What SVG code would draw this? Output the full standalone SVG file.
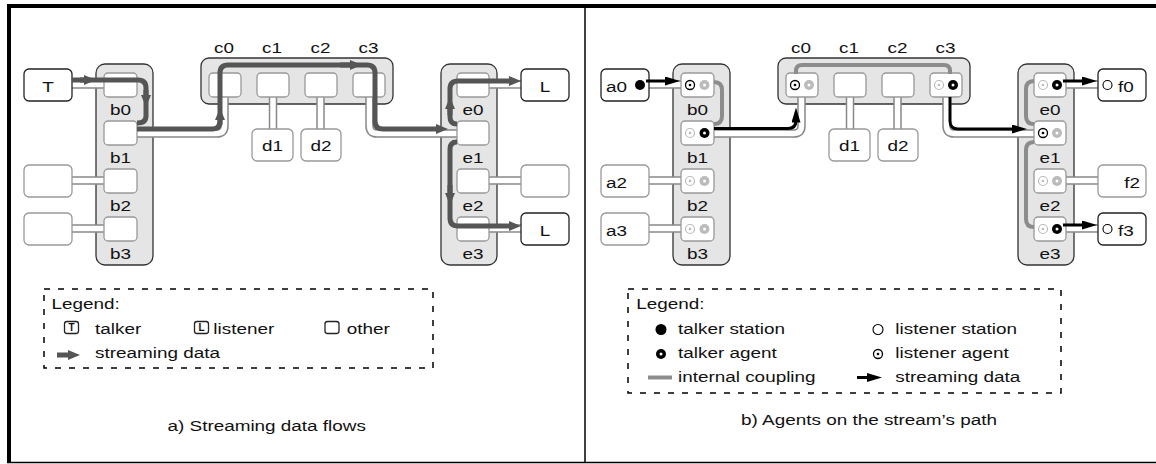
<svg xmlns="http://www.w3.org/2000/svg" width="1156" height="464" viewBox="0 0 1156 464">
<style>
.col{fill:#e5e5e5;stroke:#333;stroke-width:1.3}
.box{fill:#fff;stroke:#999;stroke-width:1.3}
.ext{fill:#fff;stroke:#222;stroke-width:1.3}
.ext2{fill:#fff;stroke:#999;stroke-width:1.3}
.lk{fill:none;stroke:#888;stroke-width:8.5}
.lkw{fill:none;stroke:#fff;stroke-width:5.5}
.flow{fill:none;stroke:#555;stroke-width:5}
.flowb{fill:none;stroke:#000;stroke-width:3}
.cpl{fill:none;stroke:#8c8c8c;stroke-width:4}
.leg{fill:none;stroke:#000;stroke-width:1.5;stroke-dasharray:6,8}
.t{font-family:"Liberation Sans",Arial,sans-serif;font-size:15.5px;fill:#111}
.s{font-family:"Liberation Sans",Arial,sans-serif;font-size:10px;font-weight:bold;fill:#111}
</style>
<defs>
<marker id="ag" viewBox="0 0 12 10" refX="2" refY="5" markerWidth="12" markerHeight="10" orient="auto" markerUnits="userSpaceOnUse"><path d="M0,0 L12,5 L0,10 z" fill="#555"/></marker>
<marker id="ab" viewBox="0 0 15 9" refX="2" refY="4.5" markerWidth="15" markerHeight="9" orient="auto" markerUnits="userSpaceOnUse"><path d="M0,0 L15,4.5 L0,9 z" fill="#000"/></marker>
<g id="la"><circle r="4.5" fill="#fff" stroke="#000" stroke-width="1.3"/><circle r="1.3" fill="#000"/></g>
<g id="ta"><circle r="5" fill="#000"/><circle r="1.5" fill="#fff"/></g>
<g id="li"><circle r="4.5" fill="#fff" stroke="#bbb" stroke-width="1.2"/><circle r="1.3" fill="#bbb"/></g>
<g id="ti"><circle r="5" fill="#bbb"/><circle r="1.5" fill="#fff"/></g>
</defs>

<!-- frame -->
<g id="frame">
<rect x="7" y="4" width="1149" height="4" fill="#000"/>
<rect x="7" y="4" width="4" height="459" fill="#000"/>
<line x1="7" y1="462.5" x2="1156" y2="462.5" stroke="#000" stroke-width="1.5"/>
<line x1="585" y1="8" x2="585" y2="462" stroke="#000" stroke-width="1.5"/>
</g>

<!-- ============ LEFT PANEL ============ -->
<g id="panelA">
<g id="A-bcol"><rect class="col" x="96" y="64" width="57" height="201" rx="9"/></g>
<g id="A-ccol"><rect class="col" x="201" y="58" width="192" height="46" rx="8"/></g>
<g id="A-ecol"><rect class="col" x="441" y="64" width="56" height="201" rx="9"/></g>

<g id="A-links">
<g><path class="lk" d="M72,84.5 H104"/><path class="lkw" d="M72,84.5 H104"/></g>
<g><path class="lk" d="M72,180.5 H104"/><path class="lkw" d="M72,180.5 H104"/></g>
<g><path class="lk" d="M72,228.5 H104"/><path class="lkw" d="M72,228.5 H104"/></g>
<g><path class="lk" d="M137,133.5 H217 Q224.5,133.5 224.5,126 V97"/><path class="lkw" d="M137,133.5 H217 Q224.5,133.5 224.5,126 V97"/></g>
<g><path class="lk" d="M273,97 V129"/><path class="lkw" d="M273,97 V129"/></g>
<g><path class="lk" d="M320.5,97 V129"/><path class="lkw" d="M320.5,97 V129"/></g>
<g><path class="lk" d="M369.5,97 V126 Q369.5,133.5 377,133.5 H457"/><path class="lkw" d="M369.5,97 V126 Q369.5,133.5 377,133.5 H457"/></g>
<g><path class="lk" d="M489,84.5 H521"/><path class="lkw" d="M489,84.5 H521"/></g>
<g><path class="lk" d="M489,180.5 H521"/><path class="lkw" d="M489,180.5 H521"/></g>
<g><path class="lk" d="M489,228.5 H521"/><path class="lkw" d="M489,228.5 H521"/></g>
</g>

<g id="A-T"><rect class="ext" x="24" y="69" width="48" height="32" rx="5"/><text class="t" text-anchor="middle" transform="translate(48,91.5) scale(1.22,1)">T</text></g>
<g id="A-x2"><rect class="ext2" x="24" y="165" width="48" height="32" rx="5"/></g>
<g id="A-x3"><rect class="ext2" x="24" y="213" width="48" height="32" rx="5"/></g>

<g id="A-b0"><rect class="box" x="104" y="73" width="33" height="24" rx="4"/><text class="t" text-anchor="middle" transform="translate(120.5,115) scale(1.22,1)">b0</text></g>
<g id="A-b1"><rect class="box" x="104" y="121" width="33" height="24" rx="4"/><text class="t" text-anchor="middle" transform="translate(120.5,163) scale(1.22,1)">b1</text></g>
<g id="A-b2"><rect class="box" x="104" y="169" width="33" height="24" rx="4"/><text class="t" text-anchor="middle" transform="translate(120.5,211) scale(1.22,1)">b2</text></g>
<g id="A-b3"><rect class="box" x="104" y="217" width="33" height="24" rx="4"/><text class="t" text-anchor="middle" transform="translate(120.5,259) scale(1.22,1)">b3</text></g>

<g id="A-c0"><rect class="box" x="209" y="73" width="32" height="24" rx="4"/><text class="t" text-anchor="middle" transform="translate(224,53) scale(1.22,1)">c0</text></g>
<g id="A-c1"><rect class="box" x="257" y="73" width="32" height="24" rx="4"/><text class="t" text-anchor="middle" transform="translate(272,53) scale(1.22,1)">c1</text></g>
<g id="A-c2"><rect class="box" x="305" y="73" width="32" height="24" rx="4"/><text class="t" text-anchor="middle" transform="translate(320.5,53) scale(1.22,1)">c2</text></g>
<g id="A-c3"><rect class="box" x="353" y="73" width="32" height="24" rx="4"/><text class="t" text-anchor="middle" transform="translate(368.5,53) scale(1.22,1)">c3</text></g>

<g id="A-d1"><rect class="ext2" x="252" y="129" width="41" height="32" rx="5"/><text class="t" text-anchor="middle" transform="translate(272.5,151) scale(1.22,1)">d1</text></g>
<g id="A-d2"><rect class="ext2" x="301" y="129" width="40" height="32" rx="5"/><text class="t" text-anchor="middle" transform="translate(321,151) scale(1.22,1)">d2</text></g>

<g id="A-e0"><rect class="box" x="457" y="73" width="32" height="24" rx="4"/><text class="t" text-anchor="middle" transform="translate(473,115) scale(1.22,1)">e0</text></g>
<g id="A-e1"><rect class="box" x="457" y="121" width="32" height="24" rx="4"/><text class="t" text-anchor="middle" transform="translate(473,163) scale(1.22,1)">e1</text></g>
<g id="A-e2"><rect class="box" x="457" y="169" width="32" height="24" rx="4"/><text class="t" text-anchor="middle" transform="translate(473,211) scale(1.22,1)">e2</text></g>
<g id="A-e3"><rect class="box" x="457" y="217" width="32" height="24" rx="4"/><text class="t" text-anchor="middle" transform="translate(473,259) scale(1.22,1)">e3</text></g>

<g id="A-L0"><rect class="ext" x="521" y="69" width="48" height="32" rx="5"/><text class="t" text-anchor="middle" transform="translate(545,91.5) scale(1.22,1)">L</text></g>
<g id="A-x6"><rect class="ext2" x="521" y="165" width="48" height="32" rx="5"/></g>
<g id="A-L3"><rect class="ext" x="521" y="213" width="48" height="32" rx="5"/><text class="t" text-anchor="middle" transform="translate(545,235.5) scale(1.22,1)">L</text></g>

<g id="A-flows">
<path class="flow" d="M72,80 H138 Q146,80 146,88 V116 Q146,123 137,123"/>
<path class="flow" d="M80,80 H86" marker-end="url(#ag)"/>
<path class="flow" d="M146,90 V97" marker-end="url(#ag)"/>
<path class="flow" d="M137,129 H212 Q220,129 220,121 V73 Q220,65 228,65 H367 Q375,65 375,73 V121 Q375,129 383,129 H438" marker-end="url(#ag)"/>
<path class="flow" d="M220,125 V118" marker-end="url(#ag)"/>
<path class="flow" d="M340,65 H352" marker-end="url(#ag)"/>
<path class="flow" d="M457,124 Q450,124 450,117 V89 Q450,81 458,81 H511" marker-end="url(#ag)"/>
<path class="flow" d="M450,115 V107" marker-end="url(#ag)"/>
<path class="flow" d="M457,142 Q450,142 450,149 V218 Q450,226 458,226 H511" marker-end="url(#ag)"/>
<path class="flow" d="M450,185 V195" marker-end="url(#ag)"/>
</g>

<g id="A-legend">
<rect class="leg" x="44" y="289" width="389" height="79"/>
<text class="t" transform="translate(51.5,309.3) scale(1.22,1)">Legend:</text>
<rect class="ext" x="64.5" y="321.5" width="14" height="12" rx="2.5"/>
<text class="s" text-anchor="middle" x="71.5" y="331">T</text>
<text class="t" transform="translate(95,334) scale(1.22,1)">talker</text>
<rect class="ext" x="194.5" y="321.5" width="14" height="12" rx="2.5"/>
<text class="s" text-anchor="middle" x="201.5" y="331">L</text>
<text class="t" transform="translate(213.3,334) scale(1.22,1)">listener</text>
<rect class="ext" x="325" y="321.5" width="14" height="12" rx="2.5"/>
<text class="t" transform="translate(346.7,334) scale(1.22,1)">other</text>
<path class="flow" d="M57,355 H70" marker-end="url(#ag)"/>
<text class="t" transform="translate(95,358.3) scale(1.22,1)">streaming data</text>
</g>
<text class="t" text-anchor="middle" transform="translate(266.7,431) scale(1.22,1)">a) Streaming data flows</text>
</g>

<!-- ============ RIGHT PANEL ============ -->
<g id="panelB">
<g transform="translate(577,0)">
<g id="B-bcol"><rect class="col" x="96" y="64" width="57" height="201" rx="9"/></g>
<g id="B-ccol"><rect class="col" x="201" y="58" width="192" height="46" rx="8"/></g>
<g id="B-ecol"><rect class="col" x="441" y="64" width="56" height="201" rx="9"/></g>

<g id="B-links">
<g><path class="lk" d="M72,84.5 H104"/><path class="lkw" d="M72,84.5 H104"/></g>
<g><path class="lk" d="M72,180.5 H104"/><path class="lkw" d="M72,180.5 H104"/></g>
<g><path class="lk" d="M72,228.5 H104"/><path class="lkw" d="M72,228.5 H104"/></g>
<g><path class="lk" d="M137,133.5 H217 Q224.5,133.5 224.5,126 V97"/><path class="lkw" d="M137,133.5 H217 Q224.5,133.5 224.5,126 V97"/></g>
<g><path class="lk" d="M273,97 V129"/><path class="lkw" d="M273,97 V129"/></g>
<g><path class="lk" d="M320.5,97 V129"/><path class="lkw" d="M320.5,97 V129"/></g>
<g><path class="lk" d="M369.5,97 V126 Q369.5,133.5 377,133.5 H457"/><path class="lkw" d="M369.5,97 V126 Q369.5,133.5 377,133.5 H457"/></g>
<g><path class="lk" d="M489,84.5 H521"/><path class="lkw" d="M489,84.5 H521"/></g>
<g><path class="lk" d="M489,180.5 H521"/><path class="lkw" d="M489,180.5 H521"/></g>
<g><path class="lk" d="M489,228.5 H521"/><path class="lkw" d="M489,228.5 H521"/></g>
</g>

<g id="B-a0"><rect class="ext" x="24" y="69" width="48" height="32" rx="5"/><text class="t" transform="translate(29,91.5) scale(1.22,1)">a0</text><circle cx="63" cy="85" r="5" fill="#000"/></g>
<g id="B-a2"><rect class="ext2" x="24" y="165" width="48" height="32" rx="5"/><text class="t" transform="translate(29,187.5) scale(1.22,1)">a2</text></g>
<g id="B-a3"><rect class="ext2" x="24" y="213" width="48" height="32" rx="5"/><text class="t" transform="translate(29,235.5) scale(1.22,1)">a3</text></g>

<g id="B-b0"><rect class="box" x="104" y="73" width="33" height="24" rx="4"/><use href="#la" x="113" y="85"/><use href="#ti" x="127.5" y="85"/><text class="t" text-anchor="middle" transform="translate(120.5,115) scale(1.22,1)">b0</text></g>
<g id="B-b1"><rect class="box" x="104" y="121" width="33" height="24" rx="4"/><use href="#li" x="113" y="133"/><use href="#ta" x="127.5" y="133"/><text class="t" text-anchor="middle" transform="translate(120.5,163) scale(1.22,1)">b1</text></g>
<g id="B-b2"><rect class="box" x="104" y="169" width="33" height="24" rx="4"/><use href="#li" x="113" y="181"/><use href="#ti" x="127.5" y="181"/><text class="t" text-anchor="middle" transform="translate(120.5,211) scale(1.22,1)">b2</text></g>
<g id="B-b3"><rect class="box" x="104" y="217" width="33" height="24" rx="4"/><use href="#li" x="113" y="229"/><use href="#ti" x="127.5" y="229"/><text class="t" text-anchor="middle" transform="translate(120.5,259) scale(1.22,1)">b3</text></g>

<g id="B-c0"><rect class="box" x="209" y="73" width="32" height="24" rx="4"/><use href="#la" x="218" y="85"/><use href="#ti" x="232" y="85"/><text class="t" text-anchor="middle" transform="translate(224,53) scale(1.22,1)">c0</text></g>
<g id="B-c1"><rect class="box" x="257" y="73" width="32" height="24" rx="4"/><text class="t" text-anchor="middle" transform="translate(272,53) scale(1.22,1)">c1</text></g>
<g id="B-c2"><rect class="box" x="305" y="73" width="32" height="24" rx="4"/><text class="t" text-anchor="middle" transform="translate(320.5,53) scale(1.22,1)">c2</text></g>
<g id="B-c3"><rect class="box" x="353" y="73" width="32" height="24" rx="4"/><use href="#li" x="362" y="85"/><use href="#ta" x="376" y="85"/><text class="t" text-anchor="middle" transform="translate(368.5,53) scale(1.22,1)">c3</text></g>

<g id="B-d1"><rect class="ext2" x="252" y="129" width="41" height="32" rx="5"/><text class="t" text-anchor="middle" transform="translate(272.5,151) scale(1.22,1)">d1</text></g>
<g id="B-d2"><rect class="ext2" x="301" y="129" width="40" height="32" rx="5"/><text class="t" text-anchor="middle" transform="translate(321,151) scale(1.22,1)">d2</text></g>

<g id="B-e0"><rect class="box" x="457" y="73" width="32" height="24" rx="4"/><use href="#li" x="466" y="85"/><use href="#ta" x="480" y="85"/><text class="t" text-anchor="middle" transform="translate(473,115) scale(1.22,1)">e0</text></g>
<g id="B-e1"><rect class="box" x="457" y="121" width="32" height="24" rx="4"/><use href="#la" x="466" y="133"/><use href="#ti" x="480" y="133"/><text class="t" text-anchor="middle" transform="translate(473,163) scale(1.22,1)">e1</text></g>
<g id="B-e2"><rect class="box" x="457" y="169" width="32" height="24" rx="4"/><use href="#li" x="466" y="181"/><use href="#ti" x="480" y="181"/><text class="t" text-anchor="middle" transform="translate(473,211) scale(1.22,1)">e2</text></g>
<g id="B-e3"><rect class="box" x="457" y="217" width="32" height="24" rx="4"/><use href="#li" x="466" y="229"/><use href="#ta" x="480" y="229"/><text class="t" text-anchor="middle" transform="translate(473,259) scale(1.22,1)">e3</text></g>

<g id="B-f0"><rect class="ext" x="521" y="69" width="48" height="32" rx="5"/><circle cx="530.5" cy="85" r="4.5" fill="#fff" stroke="#000" stroke-width="1.1"/><text class="t" transform="translate(541,91.5) scale(1.22,1)">f0</text></g>
<g id="B-f2"><rect class="ext2" x="521" y="165" width="48" height="32" rx="5"/><text class="t" text-anchor="end" transform="translate(563,187.5) scale(1.22,1)">f2</text></g>
<g id="B-f3"><rect class="ext" x="521" y="213" width="48" height="32" rx="5"/><circle cx="530.5" cy="229" r="4.5" fill="#fff" stroke="#000" stroke-width="1.1"/><text class="t" transform="translate(541,235.5) scale(1.22,1)">f3</text></g>

<g id="B-couplings">
<path class="cpl" d="M137,82 Q145,82 145,90 V116 Q145,124 137,124"/>
<path class="cpl" d="M219,74 V71 Q219,65 225,65 H367 Q373,65 373,71 V74"/>
<path class="cpl" d="M457,81 Q449,81 449,89 V116 Q449,124 457,124"/>
<path class="cpl" d="M457,142 Q449,142 449,150 V219 Q449,227 457,227"/>
</g>

<g id="B-flows">
<path class="flowb" d="M69,81 H90" marker-end="url(#ab)"/>
<path class="flowb" d="M137,128.5 H211 Q219,128.5 219,120.5" marker-end="url(#ab)"/>
<path class="flowb" d="M373,97 V121 Q373,129 381,129 H437" marker-end="url(#ab)"/>
<path class="flowb" d="M486,81 H507" marker-end="url(#ab)"/>
<path class="flowb" d="M486,225 H507" marker-end="url(#ab)"/>
</g>
</g>

<g id="B-legend">
<rect class="leg" x="628" y="289" width="433" height="104"/>
<text class="t" transform="translate(636.3,309.3) scale(1.22,1)">Legend:</text>
<circle cx="661" cy="329.5" r="5.5" fill="#000"/>
<text class="t" transform="translate(678,334.3) scale(1.22,1)">talker station</text>
<circle cx="878" cy="329.5" r="5" fill="#fff" stroke="#000" stroke-width="1.1"/>
<text class="t" transform="translate(895.3,334.3) scale(1.22,1)">listener station</text>
<use href="#ta" x="661" y="354"/>
<text class="t" transform="translate(678,358.3) scale(1.22,1)">talker agent</text>
<use href="#la" x="878" y="354"/>
<text class="t" transform="translate(895.3,358.3) scale(1.22,1)">listener agent</text>
<line x1="648" y1="377.5" x2="672" y2="377.5" stroke="#8c8c8c" stroke-width="4"/>
<text class="t" transform="translate(678,382.3) scale(1.22,1)">internal coupling</text>
<path class="flowb" d="M857,377.5 H869" marker-end="url(#ab)"/>
<text class="t" transform="translate(895.3,382.3) scale(1.22,1)">streaming data</text>
</g>
<text class="t" text-anchor="middle" transform="translate(869,425) scale(1.22,1)">b) Agents on the stream’s path</text>
</g>
</svg>
